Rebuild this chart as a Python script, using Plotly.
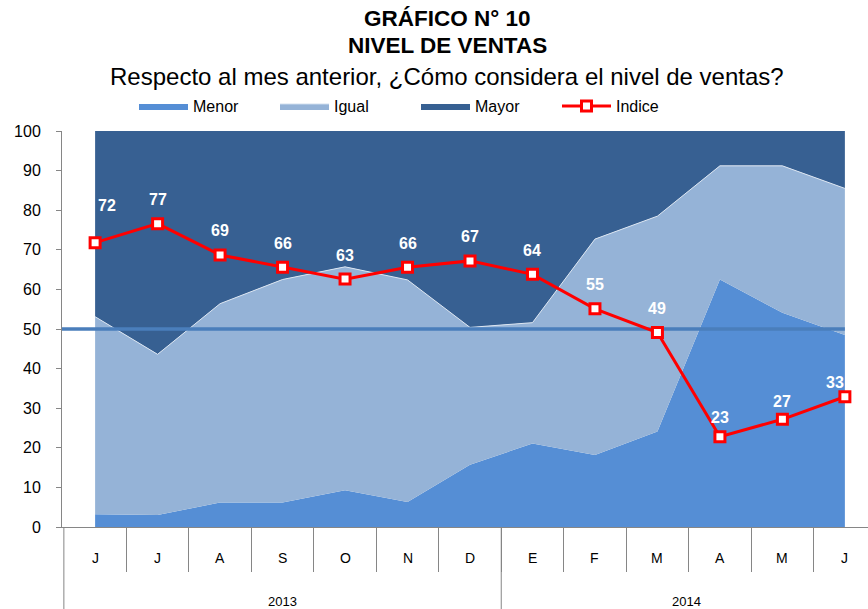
import plotly.graph_objects as go

# --- Datos ---
meses = ["J", "J", "A", "S", "O", "N", "D", "E", "F", "M", "A", "M", "J"]
anios = ["2013", "2014"]
meses_por_anio = [7, 6]

menor = [3.2, 3.0, 6.2, 6.2, 9.3, 6.3, 15.7, 21.1, 18.2, 24.1, 62.5, 54.1, 48.5]
igual = [49.9, 40.6, 50.2, 56.3, 56.4, 56.1, 34.7, 30.5, 54.5, 54.4, 28.7, 37.1, 37.0]
mayor = [46.9, 56.4, 43.6, 37.5, 34.3, 37.6, 49.6, 48.4, 27.3, 21.5, 8.8, 8.8, 14.5]
indice = [71.8, 76.6, 68.7, 65.6, 62.6, 65.6, 67.2, 63.8, 55.1, 49.1, 22.8, 27.2, 32.9]
referencia = 50

FONT = "Liberation Sans, Arial, sans-serif"
x = list(range(len(meses)))
x_min, x_max = -0.53, 12.37
bottom = -82 / 396

fig = go.Figure()

# areas apiladas
fig.add_trace(go.Scatter(x=x, y=menor, name="Menor", stackgroup="s", mode="lines",
                         line=dict(width=0, color="#558ED5"), fillcolor="#558ED5"))
fig.add_trace(go.Scatter(x=x, y=igual, name="Igual", stackgroup="s", mode="lines",
                         line=dict(width=1, color="#DCE6F2"), fillcolor="#95B3D7"))
fig.add_trace(go.Scatter(x=x, y=mayor, name="Mayor", stackgroup="s", mode="lines",
                         line=dict(width=0, color="#376092"), fillcolor="#376092"))

# linea de referencia (50)
fig.add_trace(go.Scatter(x=[x_min, x[-1]], y=[referencia, referencia], mode="lines",
                         line=dict(color="#4A7EBB", width=3.5), showlegend=False, hoverinfo="skip"))

# indice
fig.add_trace(go.Scatter(x=x, y=indice, name="Indice", mode="lines+markers",
                         line=dict(color="#FF0000", width=3),
                         marker=dict(symbol="square", size=10, color="white",
                                     line=dict(color="#FF0000", width=3))))

# etiquetas del indice
shifts = {0: (12, 37), 10: (0, 19), 11: (0, 18), 12: (-10, 14)}
for i, v in enumerate(indice):
    dx, dy = shifts.get(i, (0, 24))
    fig.add_annotation(x=i, y=v, text=f"{v:.0f}", showarrow=False, xshift=dx, yshift=dy,
                       font=dict(family=FONT, size=16, color="white", weight="bold"))

# etiquetas de meses
for i, m in enumerate(meses):
    fig.add_annotation(x=i, y=-31 / 396, yref="paper", yanchor="middle", text=m,
                       showarrow=False, font=dict(family=FONT, size=14, color="black"))

# anios y divisores
start = 0
for a, n in zip(anios, meses_por_anio):
    fig.add_shape(type="line", xref="x", yref="paper", x0=start - 0.5, x1=start - 0.5,
                  y0=0, y1=bottom, line=dict(color="#868686", width=1))
    fig.add_annotation(x=(start - 0.5 + min(start + n - 0.5, x_max + 0.5)) / 2 - (0.03 if start else 0),
                       y=-74 / 396, yref="paper", yanchor="middle", text=a, showarrow=False,
                       font=dict(family=FONT, size=13, color="black"))
    start += n

# titulos
titles = [("GRÁFICO N° 10", 19, True, 22.5), ("NIVEL DE VENTAS", 46, True, 22.5),
          ("Respecto al mes anterior, ¿Cómo considera el nivel de ventas?", 77, False, 24)]
for t, py, b, s in titles:
    fig.add_annotation(x=(447 - 62) / 806, y=(527 - py) / 396, xref="paper", yref="paper",
                       text=t, showarrow=False, yanchor="middle",
                       font=dict(family=FONT, size=s, color="black",
                                 weight="bold" if b else "normal"))

fig.update_layout(
    width=868, height=609,
    margin=dict(l=62, r=0, t=131, b=82),
    plot_bgcolor="white", paper_bgcolor="white",
    font=dict(family=FONT, size=16, color="black"),
    showlegend=True,
    legend=dict(orientation="h", x=(134 - 62) / 806, xanchor="left",
                yref="container", y=1 - 106 / 609, yanchor="middle",
                itemwidth=49, entrywidth=77, font=dict(size=16),
                traceorder="normal", bgcolor="rgba(0,0,0,0)"),
    hovermode=False,
)
fig.update_xaxes(range=[x_min, x_max], showgrid=False, zeroline=False, showline=True,
                 linecolor="#868686", linewidth=1, showticklabels=False, automargin=False,
                 tickmode="array", tickvals=[i - 0.5 for i in x[1:]], ticks="outside",
                 ticklen=44, tickcolor="#868686")
fig.update_yaxes(range=[0, 100], dtick=10, showgrid=False, zeroline=False, showline=True,
                 linecolor="#868686", linewidth=1, ticks="outside", ticklen=5, automargin=False,
                 tickcolor="#868686", ticklabelstandoff=12, tickfont=dict(size=16, color="black"))

# sin margen del body para que la figura empiece en (0, 0)
fig.write_html("out.html", config={"displayModeBar": False},
               post_script="document.body.style.margin='0';")
